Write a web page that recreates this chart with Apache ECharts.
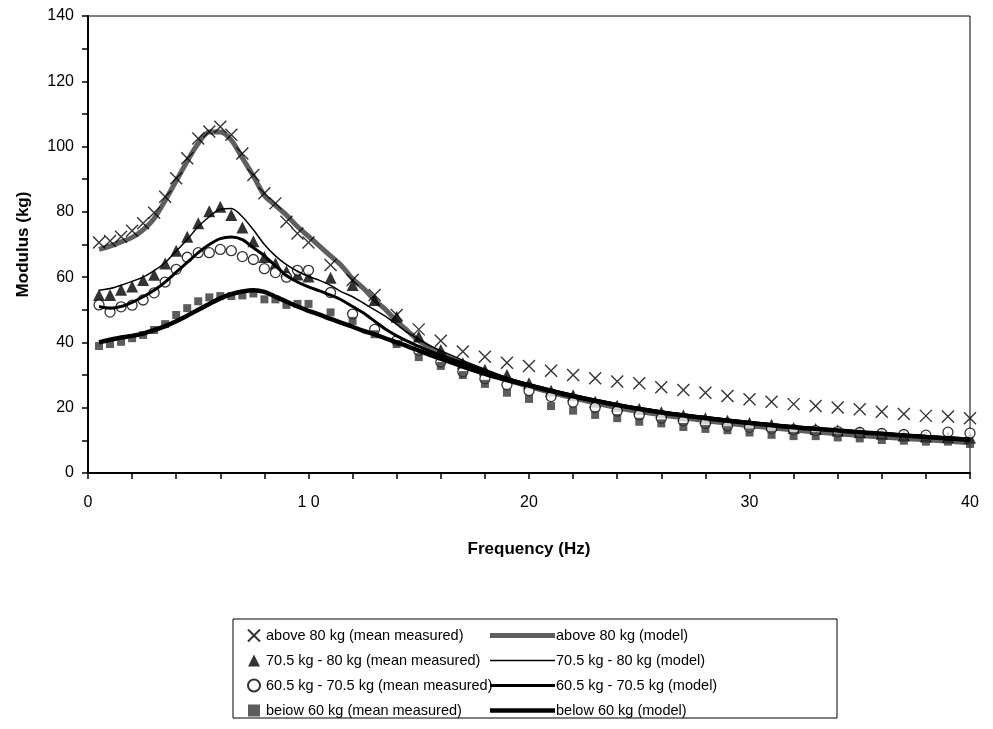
<!DOCTYPE html>
<html>
<head>
<meta charset="utf-8">
<script src="https://cdn.jsdelivr.net/npm/echarts@6/dist/echarts.min.js"></script>
<style>
  html, body { margin: 0; padding: 0; background: #fff; }
  #chart { width: 993px; height: 729px; }
</style>
</head>
<body>
<div id="chart"></div>
<script>
// measured points: 0.5 Hz steps up to 10 Hz, then 1 Hz steps
var freqMeas = [0.5, 1, 1.5, 2, 2.5, 3, 3.5, 4, 4.5, 5, 5.5, 6, 6.5, 7, 7.5, 8, 8.5, 9, 9.5, 10,
  11, 12, 13, 14, 15, 16, 17, 18, 19, 20, 21, 22, 23, 24, 25, 26, 27, 28, 29, 30,
  31, 32, 33, 34, 35, 36, 37, 38, 39, 40];

var above80Meas = [70.6, 71.1, 72.4, 74.2, 76.5, 79.7, 84.6, 90.3, 96.4, 102.5, 104.6, 106.1, 103.6, 97.9, 91.3, 85.7, 82.6, 77, 73.4, 70.6,
  63.7, 59.1, 54.5, 48.4, 44.0, 40.5, 37.2, 35.6, 33.8, 32.8, 31.3, 30.0, 29.0, 28.0, 27.5, 26.3, 25.4, 24.6, 23.6, 22.6,
  21.8, 21.1, 20.5, 20.1, 19.5, 18.8, 18.1, 17.5, 17.3, 16.8];
var mid80Meas = [54.5, 54.5, 56.1, 57.1, 59.1, 60.7, 64.2, 68.1, 72.4, 76.5, 80.2, 81.6, 79, 75.2, 71, 66.2, 64.2, 61.8, 60.8, 60.2,
  59.8, 57.6, 53, 47.9, 41.8, 37.7, 33.6, 31.6, 30.0, 27.5, 25.2, 23.8, 21.8, 20.6, 19.6, 18.6, 17.6, 16.8, 16.0, 15.3,
  14.8, 13.8, 13.5, 13.0, 12.5, 12.0, 11.5, 11.2, 11.0, 10.8];
var mid70Meas = [51.5, 49.3, 50.9, 51.4, 53, 55.2, 58.5, 62.4, 66.1, 67.5, 67.5, 68.5, 68.1, 66.3, 65.4, 62.6, 61.4, 60, 62.1, 62.1,
  55.3, 48.7, 44, 40.5, 37.5, 34, 31, 28.9, 27, 25.2, 23.4, 21.7, 20.1, 19, 17.8, 16.8, 16, 15.2, 14.4, 14,
  13.6, 13.3, 13, 12.7, 12.4, 12.1, 11.8, 11.6, 12.5, 12.2];
var below60Meas = [38.9, 39.5, 40.2, 41.3, 42.3, 43.8, 45.6, 48.4, 50.5, 52.6, 53.8, 54.2, 54.2, 54.4, 55, 53.2, 53.2, 51.5, 51.8, 51.8,
  49.2, 46.6, 42.5, 39.5, 35.5, 32.8, 30, 27.3, 24.6, 22.7, 20.5, 19.1, 17.8, 16.8, 15.7, 15.2, 14.1, 13.5, 13.1, 12.4,
  11.7, 11.3, 11.3, 10.9, 10.6, 10.1, 9.9, 9.6, 9.6, 8.9];

// model curves
var freqModel = [0.5, 1, 1.5, 2, 2.5, 3, 3.5, 4, 4.5, 5, 5.5, 6, 6.5, 7, 7.5, 8, 8.5, 9, 9.5, 10,
  10.5, 11, 11.5, 12, 12.5, 13, 13.5, 14, 14.5, 15, 15.5, 16,
  17, 18, 19, 20, 22, 24, 26, 28, 30, 32, 34, 36, 38, 40];
var above80Model = [68.5, 69.5, 70.8, 72.2, 74.5, 78, 83.5, 89.5, 95.5, 101, 104.5, 104.5, 102, 96.5, 91, 85, 82, 79, 75.5, 72.5,
  69.5, 66.5, 63.5, 59.5, 56.5, 53, 50, 46.5, 43.5, 40.5, 38.5, 36.5,
  33.5, 31, 28.5, 26.5, 23, 20, 17.8, 16, 14.5, 13.2, 12, 11, 10.2, 9.3];
var mid80Model = [56, 56.5, 57.5, 58.7, 60, 62, 64.5, 68, 71.5, 75.5, 78.5, 80.8, 81, 78.5, 74.5, 70, 66.5, 63.8, 61.8, 60.2,
  59, 57.5, 55.5, 54, 52, 50, 48, 45.5, 43, 41, 39, 37.5,
  34.5, 31.8, 29.3, 27.3, 24, 21.2, 19, 17.2, 15.7, 14.4, 13.3, 12.3, 11.4, 10.6];
var mid70Model = [51, 50.5, 51, 52.3, 54, 56, 58.5, 61.5, 64.5, 67.5, 70, 71.8, 72.3, 71.5, 69, 66.5, 63.5, 60.5, 58.5, 57,
  55.8, 54.5, 53, 51, 49, 46.5, 44, 42, 40.3, 38.8, 37.3, 36,
  33.7, 31.2, 29, 27.1, 23.8, 21, 18.8, 17, 15.5, 14.2, 13.1, 12.1, 11.2, 10.4];
var below60Model = [40, 40.8, 41.5, 42, 42.7, 43.8, 45, 46.5, 48.2, 50, 51.8, 53.5, 54.8, 55.6, 56, 55.5, 54, 52.5, 51, 49.7,
  48.5, 47.2, 46, 44.8, 43.5, 42.5, 41.2, 40, 38.8, 37.5, 36.2, 35,
  32.6, 30.4, 28.5, 26.8, 23.5, 20.8, 18.5, 16.8, 15.3, 14, 13, 12, 11, 10.2];

var measNames = ['above 80 kg (mean measured)', '70.5 kg - 80 kg (mean measured)',
  '60.5 kg - 70.5 kg (mean measured)', 'beiow 60 kg (mean measured)'];
var modelNames = ['above 80 kg (model)', '70.5 kg - 80 kg (model)',
  '60.5 kg - 70.5 kg (model)', 'below 60 kg (model)'];
var modelWidths = [5, 1.5, 3, 4.5];

function pairs(xs, ys) {
  return xs.map(function (x, i) { return [x, ys[i]]; });
}

// flat bar icon so the legend shows just the line, at its own thickness
function lineIcon(w) {
  return 'path://M0,0H65V' + w + 'H0Z';
}

var font = '"Liberation Sans", Arial, sans-serif';

var chart = echarts.init(document.getElementById('chart'));

var option = {
  animation: false,
  backgroundColor: '#fff',
  textStyle: { fontFamily: font },
  grid: {
    left: 88, right: 23, top: 16, bottom: 256,
    show: true, borderColor: '#000', borderWidth: 1
  },
  graphic: [{
    type: 'rect',
    shape: { x: 233, y: 619, width: 604, height: 99 },
    style: { fill: 'none', stroke: '#000', lineWidth: 1 }
  }],
  legend: [
    {
      data: measNames,
      orient: 'vertical',
      left: 247, top: 627, padding: 0, height: 100,
      itemWidth: 12, itemHeight: 12, itemGap: 8,
      textStyle: { fontSize: 14.5, color: '#000', fontFamily: font, lineHeight: 17, padding: [0, 0, 0, 1] }
    },
    {
      data: modelNames.map(function (n, i) { return { name: n, icon: lineIcon(modelWidths[i]) }; }),
      orient: 'vertical',
      left: 490, top: 627, padding: 0, height: 100,
      itemWidth: 65, itemHeight: 12, itemGap: 8, symbolKeepAspect: true,
      textStyle: { fontSize: 14.5, color: '#000', fontFamily: font, lineHeight: 17, padding: [0, 0, 0, -4] }
    }
  ],
  xAxis: {
    type: 'value', min: 0, max: 40, interval: 10,
    name: 'Frequency (Hz)', nameLocation: 'middle', nameGap: 68,
    nameTextStyle: { fontSize: 17, fontWeight: 'bold', color: '#000', fontFamily: font },
    axisLine: { lineStyle: { color: '#000', width: 2 } },
    axisTick: { length: 6, lineStyle: { color: '#000', width: 1.5 } },
    minorTick: { show: true, splitNumber: 5, length: 6, lineStyle: { color: '#000', width: 1.5 } },
    axisLabel: {
      fontSize: 16, color: '#000', margin: 22,
      formatter: function (v) { return v === 10 ? '1 0' : String(v); }
    },
    splitLine: { show: false }
  },
  yAxis: {
    type: 'value', min: 0, max: 140, interval: 20,
    name: 'Modulus (kg)', nameLocation: 'middle', nameGap: 56,
    nameTextStyle: { fontSize: 17, fontWeight: 'bold', color: '#000', fontFamily: font },
    axisLine: { show: true, lineStyle: { color: '#000', width: 2 } },
    axisTick: { show: true, length: 6, lineStyle: { color: '#000', width: 1.5 } },
    minorTick: { show: true, splitNumber: 2, length: 6, lineStyle: { color: '#000', width: 1.5 } },
    axisLabel: { fontSize: 16, color: '#000', margin: 14 },
    splitLine: { show: false }
  },
  series: [
    {
      name: modelNames[0], type: 'line', data: pairs(freqModel, above80Model),
      showSymbol: false, symbol: 'none', smooth: 0.3, z: 1,
      itemStyle: { color: '#5f5f5f' },
      lineStyle: { color: '#5f5f5f', width: modelWidths[0] }
    },
    {
      name: measNames[0], type: 'scatter', data: pairs(freqMeas, above80Meas),
      symbol: 'path://M0,0L10,10M10,0L0,10', symbolSize: 12, z: 2,
      itemStyle: { color: 'rgba(0,0,0,0)', borderColor: '#000', borderWidth: 1.4 }
    },
    {
      name: measNames[1], type: 'scatter', data: pairs(freqMeas, mid80Meas),
      symbol: 'triangle', symbolSize: 12, z: 2,
      itemStyle: { color: '#000' }
    },
    {
      name: measNames[2], type: 'scatter', data: pairs(freqMeas, mid70Meas),
      symbol: 'circle', symbolSize: 10, z: 2,
      itemStyle: { color: '#fff', borderColor: '#000', borderWidth: 1.3 }
    },
    {
      name: measNames[3], type: 'scatter', data: pairs(freqMeas, below60Meas),
      symbol: 'rect', symbolSize: 8, z: 2,
      itemStyle: { color: '#333' }
    },
    {
      name: modelNames[1], type: 'line', data: pairs(freqModel, mid80Model),
      showSymbol: false, symbol: 'none', smooth: 0.3, z: 3,
      itemStyle: { color: '#000' },
      lineStyle: { color: '#000', width: modelWidths[1] }
    },
    {
      name: modelNames[2], type: 'line', data: pairs(freqModel, mid70Model),
      showSymbol: false, symbol: 'none', smooth: 0.3, z: 3,
      itemStyle: { color: '#000' },
      lineStyle: { color: '#000', width: modelWidths[2] }
    },
    {
      name: modelNames[3], type: 'line', data: pairs(freqModel, below60Model),
      showSymbol: false, symbol: 'none', smooth: 0.3, z: 3,
      itemStyle: { color: '#000' },
      lineStyle: { color: '#000', width: modelWidths[3] }
    }
  ]
};

chart.setOption(option);
</script>
</body>
</html>
